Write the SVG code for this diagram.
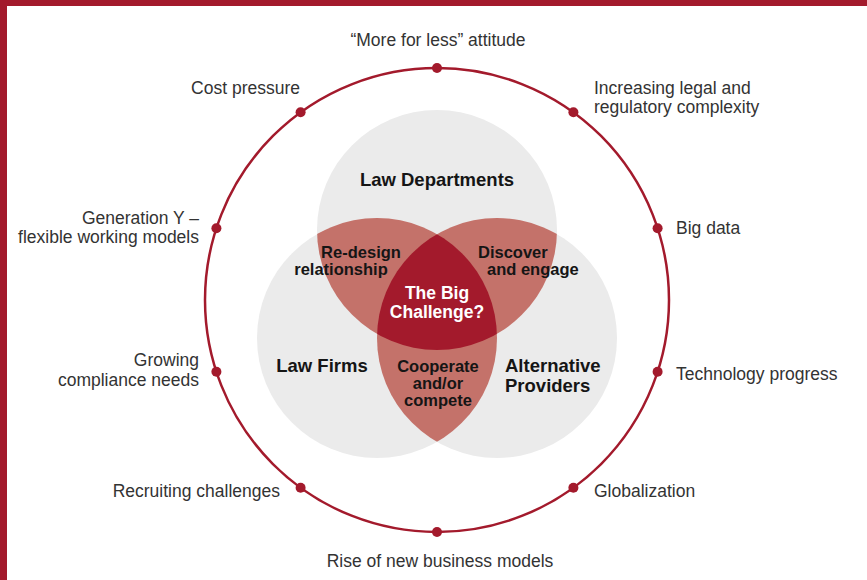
<svg xmlns="http://www.w3.org/2000/svg" width="867" height="580" viewBox="0 0 867 580">
<style>
.lbl{font-family:"Liberation Sans",Arial,sans-serif;font-size:17.5px;fill:#333333}
.vb{font-family:"Liberation Sans",Arial,sans-serif;font-weight:bold;fill:#151515}
.big{font-size:18.5px}
.sm{font-size:16.5px}
.ring{fill:none;stroke:#a31a2c;stroke-width:2.5}
.dot{fill:#a31a2c}
.gray{fill:#ebebeb}
.pair{fill:#c4726a}
.core{fill:#a31a2c}
</style>
<defs>
<clipPath id="cT"><circle cx="437" cy="230" r="120"/></clipPath>
<clipPath id="cL"><circle cx="377" cy="338" r="120"/></clipPath>
<clipPath id="cR"><circle cx="497" cy="338" r="120"/></clipPath>
</defs>
<rect x="0" y="0" width="867" height="580" fill="#ffffff"/>
<rect x="0" y="0" width="867" height="6" fill="#a31a2c"/>
<rect x="0" y="0" width="7" height="580" fill="#a31a2c"/>

<g id="venn">
<circle class="gray" cx="437" cy="230" r="120"/>
<circle class="gray" cx="377" cy="338" r="120"/>
<circle class="gray" cx="497" cy="338" r="120"/>
<circle class="pair" cx="377" cy="338" r="120" clip-path="url(#cT)"/>
<circle class="pair" cx="497" cy="338" r="120" clip-path="url(#cT)"/>
<circle class="pair" cx="497" cy="338" r="120" clip-path="url(#cL)"/>
<g clip-path="url(#cT)"><circle class="core" cx="377" cy="338" r="120" clip-path="url(#cR)"/></g>
</g>

<g id="law-departments"><text class="vb big" x="437" y="186" text-anchor="middle">Law Departments</text></g>
<g id="law-firms"><text class="vb big" x="322" y="372" text-anchor="middle">Law Firms</text></g>
<g id="alternative-providers"><text class="vb big" x="505" y="372">Alternative</text><text class="vb big" x="505" y="392">Providers</text></g>
<g id="redesign"><text class="vb sm" x="361" y="258" text-anchor="middle">Re-design</text><text class="vb sm" x="341" y="275" text-anchor="middle">relationship</text></g>
<g id="discover"><text class="vb sm" x="478" y="258">Discover</text><text class="vb sm" x="487" y="275">and engage</text></g>
<g id="cooperate"><text class="vb sm" x="438" y="372" text-anchor="middle">Cooperate</text><text class="vb sm" x="438" y="389" text-anchor="middle">and/or</text><text class="vb sm" x="438" y="406" text-anchor="middle">compete</text></g>
<g id="big-challenge"><text class="vb" style="font-size:17.5px;fill:#ffffff" x="437" y="299" text-anchor="middle">The Big</text><text class="vb" style="font-size:17.5px;fill:#ffffff" x="437" y="318" text-anchor="middle">Challenge?</text></g>

<g id="connectors">
<circle class="ring" cx="437" cy="300" r="232"/>
<circle class="dot" cx="437" cy="68" r="5"/>
<circle class="dot" cx="573.4" cy="112.3" r="5"/>
<circle class="dot" cx="657.6" cy="228.3" r="5"/>
<circle class="dot" cx="657.6" cy="371.7" r="5"/>
<circle class="dot" cx="573.4" cy="487.7" r="5"/>
<circle class="dot" cx="437" cy="532" r="5"/>
<circle class="dot" cx="300.6" cy="487.7" r="5"/>
<circle class="dot" cx="216.4" cy="371.7" r="5"/>
<circle class="dot" cx="216.4" cy="228.3" r="5"/>
<circle class="dot" cx="300.6" cy="112.3" r="5"/>
</g>

<g id="more-for-less"><text class="lbl" x="438" y="46" text-anchor="middle">“More for less” attitude</text></g>
<g id="increasing"><text class="lbl" x="594" y="94">Increasing legal and</text><text class="lbl" x="594" y="113">regulatory complexity</text></g>
<g id="big-data"><text class="lbl" x="676" y="234">Big data</text></g>
<g id="technology"><text class="lbl" x="676" y="380">Technology progress</text></g>
<g id="globalization"><text class="lbl" x="594" y="497">Globalization</text></g>
<g id="rise"><text class="lbl" x="440" y="567" text-anchor="middle">Rise of new business models</text></g>
<g id="recruiting"><text class="lbl" x="280" y="497" text-anchor="end">Recruiting challenges</text></g>
<g id="growing"><text class="lbl" x="199" y="366" text-anchor="end">Growing</text><text class="lbl" x="199" y="386" text-anchor="end">compliance needs</text></g>
<g id="generation-y"><text class="lbl" x="199" y="224" text-anchor="end">Generation Y –</text><text class="lbl" x="199" y="243" text-anchor="end">flexible working models</text></g>
<g id="cost-pressure"><text class="lbl" x="300" y="94" text-anchor="end">Cost pressure</text></g>
</svg>
